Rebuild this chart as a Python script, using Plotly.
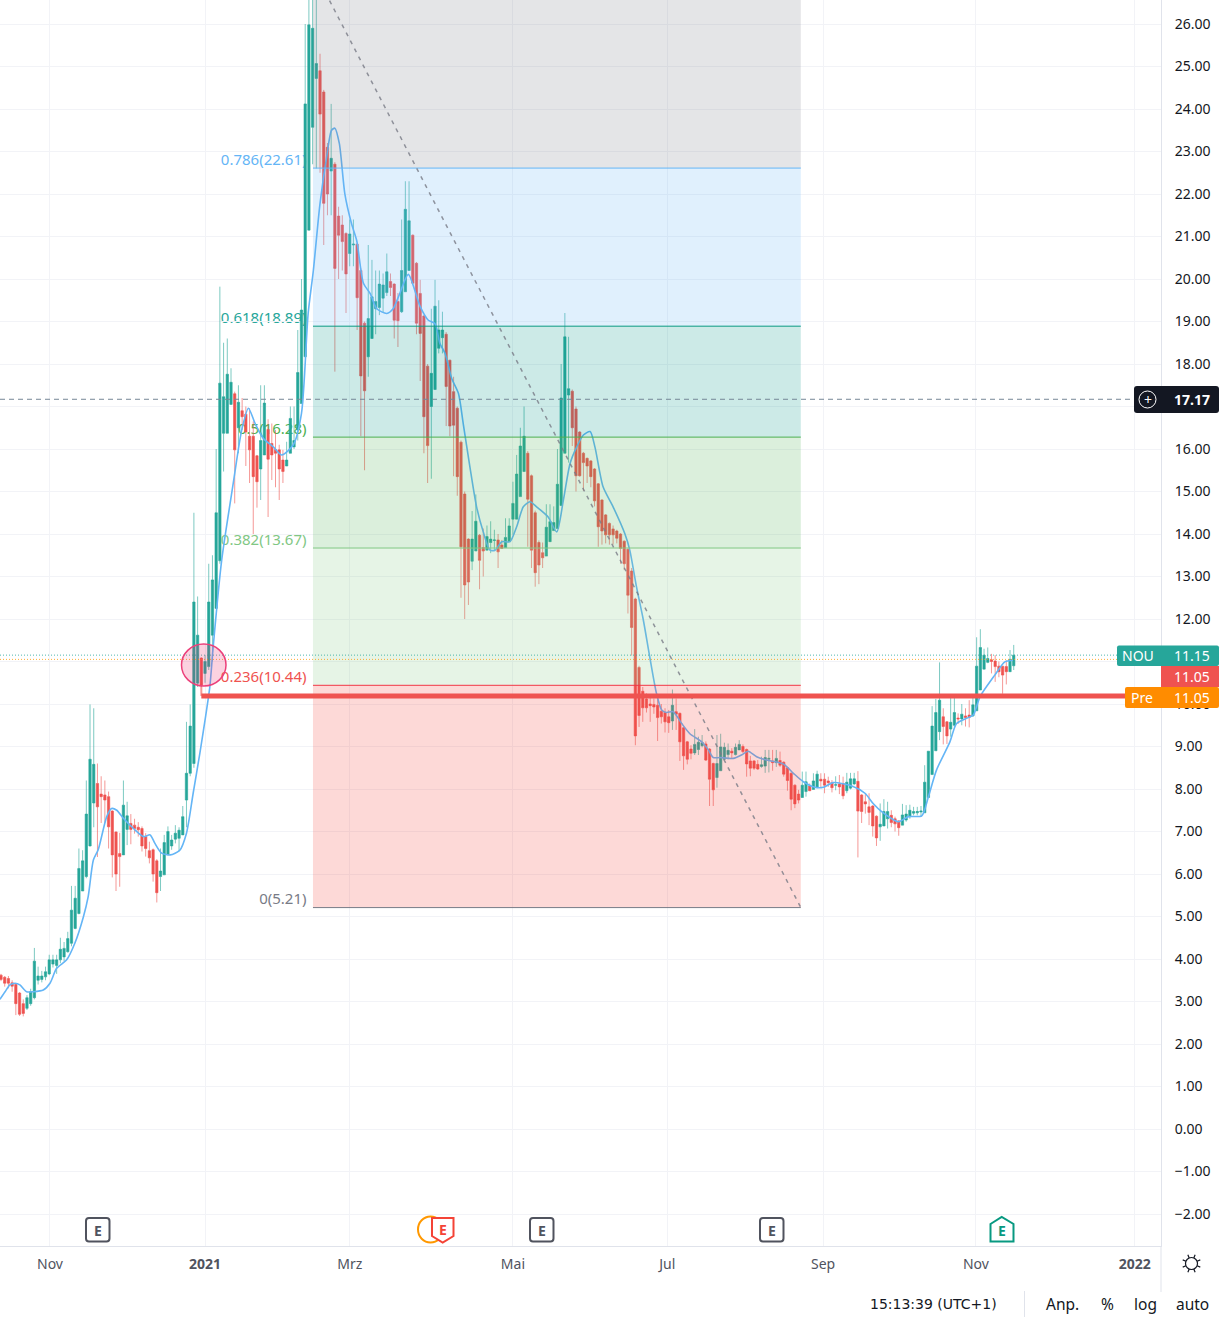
import math
import plotly.graph_objects as go

# ---------- data ----------
opens = [
 3.62,3.57,3.54,3.44,3.40,3.20,2.95,2.84,2.95,3.09,
 3.50,3.52,3.58,3.65,3.88,3.85,3.98,4.05,4.17,4.37,
 4.72,5.07,5.60,5.94,6.66,7.67,8.13,7.88,7.86,7.82,
 7.48,6.99,6.48,6.45,7.05,7.19,7.15,7.10,7.07,6.88,
 6.55,6.57,6.31,5.94,5.98,6.45,6.66,6.82,6.84,6.92,
 7.74,8.37,8.60,10.49,11.08,10.72,10.88,11.62,12.25,13.37,
 16.37,16.37,17.05,17.30,16.50,16.90,16.82,16.30,16.30,15.84,
 15.53,15.86,16.46,16.13,15.99,15.98,15.74,15.60,15.90,16.05,
 16.45,17.07,18.17,21.15,23.57,24.72,24.90,24.40,23.10,22.54,
 22.70,21.48,21.27,21.07,20.60,20.80,20.82,20.20,18.96,18.17,
 18.60,19.30,19.33,19.55,19.68,19.94,19.88,19.47,19.23,19.70,
 20.20,21.03,20.37,19.66,19.13,17.95,17.00,17.40,18.37,18.62,
 18.70,18.09,17.35,16.96,16.16,14.94,13.88,13.36,13.60,13.97,
 13.68,13.62,13.80,13.85,13.86,13.74,13.68,13.82,14.35,14.35,
 14.88,15.47,15.90,15.37,14.50,13.80,13.56,13.48,13.82,14.08,
 14.13,14.67,15.90,17.27,17.36,16.94,16.40,15.90,15.78,15.72,
 15.53,15.18,14.80,14.45,14.25,14.12,14.07,14.00,13.83,13.64,
 13.13,12.47,10.86,10.30,10.12,10.00,9.99,9.97,9.83,9.80,
 9.70,9.60,9.82,9.78,9.44,9.11,8.94,8.85,8.93,9.02,
 9.06,8.94,8.60,8.27,8.43,8.70,8.81,8.89,8.81,8.92,
 9.00,8.93,8.66,8.66,8.58,8.53,8.54,8.70,8.66,8.62,
 8.67,8.63,8.50,8.37,8.09,7.88,7.80,7.94,8.07,7.99,
 8.05,8.23,8.23,8.19,8.15,8.09,8.12,8.13,7.96,8.02,
 8.12,8.18,7.86,7.70,7.58,7.60,7.36,7.11,7.13,7.30,
 7.38,7.30,7.25,7.15,7.27,7.35,7.43,7.44,7.46,7.44,
 7.80,8.34,8.90,9.35,9.70,9.58,9.41,9.50,9.67,9.65,
 9.72,9.74,9.72,9.84,10.33,10.82,10.98,11.04,11.01,10.89,
 10.89,10.88,10.76,10.90]
highs = [
 3.65,3.60,3.60,3.50,3.42,3.22,3.05,3.15,3.30,4.26,
 3.82,3.72,3.82,4.10,4.10,4.10,4.50,4.40,4.64,5.72,
 5.72,6.60,6.56,8.20,9.99,9.90,8.60,8.30,8.20,7.94,
 7.50,7.00,6.97,8.20,7.70,7.41,7.30,7.22,7.12,6.96,
 6.76,6.60,6.35,6.60,6.92,7.12,6.92,7.15,7.10,7.60,
 9.58,9.99,14.50,12.53,11.10,11.15,13.30,13.50,16.00,19.82,
 18.50,18.60,17.90,17.35,17.50,17.20,17.00,16.96,16.65,15.86,
 17.50,17.50,16.70,16.60,16.45,16.10,15.98,16.17,17.00,17.00,
 18.80,20.00,26.00,27.00,27.00,27.00,25.30,24.45,23.20,24.12,
 22.75,21.70,21.50,21.10,21.40,21.40,20.85,20.25,19.00,20.80,
 20.45,20.20,20.20,20.13,20.60,20.13,19.90,19.67,21.40,22.30,
 22.30,21.05,20.40,19.98,19.15,18.00,19.30,19.98,19.50,19.23,
 18.75,18.10,17.70,17.00,16.20,15.00,13.90,14.54,14.93,14.00,
 14.13,14.20,14.30,14.10,14.00,13.86,14.37,14.37,15.23,15.86,
 16.50,17.00,15.95,15.40,14.55,13.85,13.80,14.70,14.70,14.65,
 16.00,18.00,19.20,18.64,17.40,17.00,16.42,15.93,15.80,15.74,
 15.55,15.20,14.82,14.47,14.27,14.20,14.10,14.02,13.85,13.66,
 13.20,12.50,10.90,10.40,10.25,10.20,10.13,10.13,10.00,9.90,
 9.86,10.34,10.13,9.80,9.46,9.13,9.03,9.41,9.23,9.27,
 9.12,8.96,8.62,9.27,9.30,9.09,9.07,8.96,9.07,9.15,
 9.05,8.95,8.78,8.68,8.68,8.76,8.92,8.92,8.92,8.92,
 8.88,8.65,8.52,8.39,8.11,7.98,8.41,8.41,8.13,8.37,
 8.43,8.37,8.37,8.29,8.21,8.30,8.33,8.29,8.38,8.38,
 8.38,8.42,7.88,7.90,7.90,7.62,7.38,7.66,7.76,7.70,
 7.50,7.35,7.27,7.65,7.62,7.63,7.58,7.58,7.60,8.56,
 8.89,9.95,10.12,10.98,9.90,9.60,10.18,10.18,9.78,10.00,
 9.90,10.09,10.18,11.57,11.76,11.30,11.33,11.18,11.15,11.00,
 10.89,11.03,11.27,11.39]
lows = [
 3.48,3.35,3.31,3.23,2.68,2.66,2.65,2.80,2.90,3.05,
 3.40,3.45,3.50,3.62,3.80,3.65,3.90,3.95,4.15,4.30,
 4.70,5.05,5.60,5.90,6.65,7.10,6.40,7.20,7.20,6.60,
 5.92,5.60,5.70,6.45,6.68,6.70,6.95,6.88,6.53,6.41,
 6.25,5.82,5.33,5.60,5.98,6.45,6.57,6.72,6.53,6.92,
 7.10,8.30,8.50,10.40,10.40,10.50,10.80,11.00,12.25,13.30,
 15.47,16.37,17.05,14.72,15.90,16.45,15.60,15.20,14.00,14.62,
 14.80,15.86,14.40,15.27,15.10,14.80,15.20,15.60,15.90,16.00,
 16.20,17.07,18.17,21.15,22.70,22.60,22.50,20.80,21.50,21.50,
 17.82,20.00,20.20,19.20,20.30,20.30,18.80,16.30,15.50,17.70,
 18.60,18.70,19.15,19.20,19.60,19.60,18.60,18.40,19.20,19.70,
 20.20,19.90,18.70,17.60,15.90,15.20,15.30,17.40,18.25,18.25,
 16.54,16.30,15.36,14.90,12.50,12.00,12.33,13.15,13.60,12.70,
 13.00,13.62,13.55,13.60,13.20,13.65,13.68,13.82,13.98,14.35,
 14.88,15.47,13.70,13.20,12.76,12.82,13.20,13.48,13.82,14.08,
 14.13,14.67,15.90,15.68,16.07,15.00,15.35,15.02,15.20,15.10,
 14.65,13.70,13.75,13.78,13.75,13.75,13.78,13.30,13.15,12.13,
 11.14,9.03,9.46,9.58,9.80,9.58,9.77,9.13,9.54,9.33,
 9.32,9.39,9.39,8.66,8.45,8.58,8.70,8.80,8.80,8.98,
 8.66,7.60,7.60,8.03,8.43,8.68,8.70,8.72,8.79,8.92,
 8.85,8.29,8.30,8.45,8.45,8.50,8.38,8.39,8.43,8.52,
 8.52,8.29,7.96,7.50,7.55,7.66,7.80,7.82,7.95,7.99,
 8.02,8.05,7.90,8.05,7.92,7.97,7.88,7.76,7.90,7.99,
 8.09,6.39,7.20,7.42,7.15,6.88,6.66,6.78,7.13,7.07,
 7.10,7.00,6.90,7.15,7.23,7.30,7.38,7.38,7.35,7.44,
 7.80,8.34,8.90,9.15,9.05,9.06,9.23,9.46,9.53,9.50,
 9.47,9.45,9.70,9.84,10.33,10.82,10.96,10.72,10.52,10.63,
 10.24,10.46,10.76,10.80]
closes = [
 3.52,3.43,3.43,3.36,2.95,2.70,2.72,3.09,3.23,3.95,
 3.60,3.60,3.70,3.98,3.98,3.98,4.23,4.25,4.48,5.15,
 5.43,6.13,6.31,7.41,8.70,8.58,7.58,7.82,7.74,7.11,
 6.45,6.00,6.41,7.62,7.37,7.05,7.07,7.04,6.66,6.60,
 6.38,6.00,5.56,6.07,6.74,7.00,6.80,6.96,7.03,7.35,
 8.37,9.48,12.40,11.62,10.45,11.00,12.40,12.92,14.50,17.55,
 17.23,17.76,17.57,15.98,17.10,16.76,16.40,15.98,15.35,15.23,
 16.20,17.08,15.76,15.86,15.90,15.53,15.47,15.74,16.72,16.20,
 17.80,19.27,24.12,25.98,25.90,25.07,23.88,21.78,22.00,22.84,
 20.25,21.03,20.88,20.12,21.06,20.82,19.56,17.72,17.37,19.07,
 19.58,19.47,19.88,19.86,20.17,19.80,19.03,19.02,20.20,21.64,
 21.37,19.90,18.96,18.72,16.76,16.08,17.78,19.36,18.80,18.80,
 17.47,16.54,16.56,15.35,13.70,12.80,12.87,13.88,14.30,13.38,
 13.60,13.94,13.88,13.86,13.58,13.66,13.92,14.19,14.72,15.41,
 16.07,16.30,14.82,13.62,13.09,13.27,13.44,14.16,14.29,14.27,
 15.17,17.20,18.64,17.42,16.50,15.37,15.37,15.68,15.60,15.35,
 14.78,14.17,14.07,13.98,13.98,13.98,13.90,13.66,13.30,12.56,
 11.80,9.25,9.73,9.91,9.91,9.96,9.93,9.68,9.70,9.58,
 9.56,9.97,9.76,9.11,8.78,8.70,8.84,9.05,9.10,9.09,
 8.68,8.23,7.98,8.60,8.99,8.98,8.91,8.85,8.98,9.05,
 8.88,8.59,8.49,8.49,8.47,8.57,8.74,8.72,8.62,8.72,
 8.56,8.35,8.20,7.76,7.65,7.74,8.09,8.17,7.96,8.19,
 8.35,8.19,8.09,8.15,8.03,8.10,8.05,7.84,8.16,8.24,
 8.24,7.48,7.47,7.65,7.45,7.13,6.85,7.17,7.47,7.47,
 7.21,7.18,7.09,7.39,7.41,7.50,7.47,7.47,7.48,8.16,
 8.89,9.48,9.80,10.09,9.47,9.25,9.57,9.80,9.65,9.76,
 9.68,9.69,9.98,10.89,11.33,11.15,11.07,11.00,10.88,10.76,
 10.68,10.76,11.05,11.15]

ma_bar = [
 -0.3,1.1,2.4,3.8,5.1,6.9,8.7,11.4,13.2,15,17.7,19.9,22.2,23.5,24.9,26.2,28.5,29.8,31.2,33,
 35.7,38.4,40.2,41.5,43.3,45.6,48.2,50,51.8,53.6,55,56.3,57.2,59.5,62.6,64.9,66.7,68.5,70.7,73.4,
 75.7,78.8,81,82.8,84.2,86,87.8,89.1,90,91.2,92.7,94.5,95.9,97.7,99.5,101.3,104,105.7,107.5,109.8,
 113,115.2,117,118.3,119.7,121.5,123.3,124.6,126.4,128.2,130,131.8,133.2,135,137.2,139,140.8,142.6,144.4,147.5,
 149.8,151.6,153.4,155.2,157,158.8,160.1,162.3,165,168.2,169.5,171.3,173.1,174.9,176.7,178.1,179.4,181.2,183.5,185.7,
 188.9,190.7,192,193.8,197.4,199.6,201.4,203.7,206.4,210.9,213.6,216.3,219.4,221.7,224.3,229.7,232.9,235.1,237.4,241.9,
 244.6,248.2,250,252.2,255.8,257.6,260.7,262.1,263.9,267.9,270.6,272.8]
ma_val = [
 3.05,3.23,3.39,3.43,3.39,3.23,3.23,3.27,3.43,3.78,3.98,4.37,4.99,5.47,6.33,6.57,7.35,7.54,7.50,7.31,
 7.07,6.88,6.92,6.72,6.49,6.45,6.56,6.96,7.90,8.84,9.62,10.41,11.35,13.39,15.19,16.45,16.96,16.60,16.25,16.05,
 15.86,16.10,16.84,19.19,20.20,21.78,22.88,23.50,23.55,23.19,22.00,21.30,20.90,19.90,19.66,19.30,19.19,19.30,19.66,20.11,
 19.35,19.03,18.95,18.49,18.25,17.66,17.31,16.60,15.58,14.64,14.05,13.62,13.62,13.82,13.82,14.17,14.64,14.76,14.64,14.40,
 14.05,14.80,15.66,16.05,16.33,16.41,16.05,15.11,14.64,14.00,13.62,12.76,12.00,11.10,10.25,9.86,9.80,9.82,9.54,9.30,
 9.11,8.92,8.74,8.74,8.72,8.80,8.89,8.76,8.68,8.59,8.37,8.17,8.04,8.04,8.15,8.06,7.90,7.66,7.47,7.23,
 7.35,7.37,7.82,8.45,9.11,9.54,9.68,9.74,10.17,10.68,10.99,11.03]

month_bar = [13.2,55,94,138,179.6,221.6,262.8,305.6]
month_text = ["Nov","<b>2021</b>","Mrz","Mai","Jul","Sep","Nov","<b>2022</b>"]

price_ticks = list(range(-2, 27))
hidden_ticks = {11, 17}     # covered by the price labels in the reference

fib_ratio = ["0.786","0.618","0.5","0.382","0.236","0"]
fib_price = [22.61,18.89,16.28,13.67,10.44,5.21]
fib_top = 27.3
fib_start_bar, fib_end_bar = 84.1, 215.6
fib_line = ["#64B5F6","#089981","#4CAF50","#81C784","#F23645","#787B86"]
fib_text = ["#64B5F6","#26A69A","#4CAF50","#81C784","#EF5350","#787B86"]
fib_fill = ["rgba(120,123,134,0.2)","rgba(100,181,246,0.2)","rgba(0,150,136,0.2)",
            "rgba(76,175,80,0.2)","rgba(129,199,132,0.2)","rgba(244,67,54,0.2)"]

last_price, pre_price, cross_price, level_price = 11.15, 11.05, 17.17, 10.19
pivot_bar = 54

FONT = "Noto Sans"
W, H, PW, PH = 1223, 1328, 1161, 1246
UP, DN = "#26A69A", "#EF5350"
px = lambda v: v / PW
py = lambda v: 1 - v / PH

fig = go.Figure()
fig.add_trace(go.Candlestick(
    x=list(range(len(opens))), open=opens, high=highs, low=lows, close=closes,
    increasing=dict(line=dict(color="rgba(38,166,154,0.6)", width=1), fillcolor=UP),
    decreasing=dict(line=dict(color="rgba(239,83,80,0.6)", width=1), fillcolor=DN),
    whiskerwidth=0, hoverinfo="skip", showlegend=False))
fig.add_trace(go.Scatter(x=ma_bar, y=ma_val, mode="lines", hoverinfo="skip", showlegend=False,
                         line=dict(color="#64B5F6", width=1.6, shape="spline", smoothing=0.7)))

shapes, notes = [], []

def rrect(x0, y0, x1, y1, r, fill, line=None, lw=0):
    P = lambda a, b: f"{px(a):.6f},{py(b):.6f}"
    d = (f"M{P(x0+r,y0)} L{P(x1-r,y0)} Q{P(x1,y0)} {P(x1,y0+r)} L{P(x1,y1-r)} Q{P(x1,y1)} {P(x1-r,y1)} "
         f"L{P(x0+r,y1)} Q{P(x0,y1)} {P(x0,y1-r)} L{P(x0,y0+r)} Q{P(x0,y0)} {P(x0+r,y0)} Z")
    shapes.append(dict(type="path", path=d, xref="paper", yref="paper", fillcolor=fill,
                       line=dict(color=line or fill, width=lw)))

def poly(points, fill, line, lw):
    d = "M" + " L".join(f"{px(a):.6f},{py(b):.6f}" for a, b in points) + " Z"
    shapes.append(dict(type="path", path=d, xref="paper", yref="paper", fillcolor=fill,
                       line=dict(color=line, width=lw)))

def text(x, y, s, size=14, color="#131722", anchor="center", family=FONT):
    notes.append(dict(x=px(x), y=py(y), xref="paper", yref="paper", text=s, showarrow=False,
                      xanchor=anchor, yanchor="middle", font=dict(family=family, size=size, color=color)))

# Fibonacci retracement
levels_top = [fib_top] + fib_price[:-1]
for top, bot, fill in zip(levels_top, fib_price, fib_fill):
    shapes.append(dict(type="rect", xref="x", yref="y", x0=fib_start_bar, x1=fib_end_bar, y0=bot, y1=top,
                       fillcolor=fill, line=dict(width=0)))
for price, col in zip(fib_price, fib_line):
    shapes.append(dict(type="line", xref="x", yref="y", x0=fib_start_bar, x1=fib_end_bar, y0=price, y1=price,
                       line=dict(color=col, width=1)))
for ratio, price, col in zip(fib_ratio, fib_price, fib_text):
    ly = 1129 - 42.5 * price - 8.5
    shapes.append(dict(type="rect", layer="below", xref="paper", yref="paper",
                       x0=px(200), x1=px(309.5), y0=py(ly + 10), y1=py(ly - 10),
                       fillcolor="rgba(0,0,0,0)", line=dict(width=0),
                       label=dict(text=f"{ratio}({price:.2f})", textposition="middle right", padding=0,
                                  font=dict(family=FONT, size=15, color=col))))
shapes.append(dict(type="line", xref="x", yref="y", x0=fib_start_bar, x1=fib_end_bar, y0=fib_top, y1=fib_price[-1],
                   line=dict(color="rgba(120,123,134,0.8)", width=1.5, dash="4px,5px")))

# horizontals
shapes.append(dict(type="line", xref="paper", yref="y", x0=0, x1=px(1135), y0=cross_price, y1=cross_price,
                   line=dict(color="#758696", width=1, dash="5px,4px")))
shapes.append(dict(type="line", xref="paper", yref="y", x0=0, x1=px(1117), y0=last_price, y1=last_price,
                   line=dict(color="rgba(38,166,154,0.8)", width=1, dash="1px,2px")))
shapes.append(dict(type="line", xref="paper", yref="y", x0=0, x1=px(1125), y0=pre_price, y1=pre_price,
                   line=dict(color="rgba(255,152,0,0.8)", width=1, dash="1px,2px")))
shapes.append(dict(type="line", xref="x", yref="y", x0=pivot_bar, x1=pivot_bar, y0=level_price, y1=10.45,
                   line=dict(color="rgba(239,83,80,0.6)", width=2)))
shapes.append(dict(type="line", xref="x", yref="y", x0=pivot_bar, x1=320, y0=level_price, y1=level_price,
                   line=dict(color=DN, width=5)))

# pink ellipse around the pivot
shapes.append(dict(type="circle", xref="paper", yref="paper", x0=px(181.5), x1=px(226), y0=py(644), y1=py(686),
                   fillcolor="rgba(233,30,99,0.2)", line=dict(color="#EC407A", width=1.5)))

# price labels
rrect(1117, 645.5, 1219, 666, 2, UP)
text(1138, 655, "NOU", color="white")
text(1192, 655, f"{last_price:.2f}", color="white")
rrect(1161, 666, 1219, 687, 0, DN)
text(1192, 676, "11.05", color="white")
rrect(1125, 687, 1219, 708, 2, "#FF8C00")
text(1142, 697, "Pre", color="white")
text(1192, 697, f"{pre_price:.2f}", color="white")
rrect(1134, 386, 1219, 413, 3, "#131722")
shapes.append(dict(type="circle", xref="paper", yref="paper", x0=px(1139), x1=px(1156), y0=py(391), y1=py(408),
                   fillcolor="rgba(0,0,0,0)", line=dict(color="white", width=1)))
text(1147.5, 399, "+", color="white", size=14)
text(1192, 399, f"<b>{cross_price:.2f}</b>", color="white")

# earnings badges
for x0 in (86, 530, 760):
    rrect(x0, 1218, x0 + 23.5, 1241.5, 3, "white", "#50535E", 2)
    text(x0 + 11.75, 1230, "<b>E</b>", color="#50535E", size=14)
shapes.append(dict(type="circle", xref="paper", yref="paper", x0=px(418), x1=px(443), y0=py(1216.5), y1=py(1242.5),
                   fillcolor="white", line=dict(color="#FF9800", width=2)))
poly([(432, 1218), (453.5, 1218), (453.5, 1236), (442.7, 1242.5), (432, 1236)], "white", "#F44336", 2)
text(442.7, 1229.5, "<b>E</b>", color="#F44336", size=14)
poly([(990.5, 1224), (1001.7, 1217), (1013.5, 1224), (1013.5, 1241.5), (990.5, 1241.5)], "white", "#089981", 2)
text(1002, 1230, "<b>E</b>", color="#089981", size=14)

# settings icon (sun)
sun_x, sun_y = 1191.5, 1263.5
shapes.append(dict(type="circle", xref="paper", yref="paper", x0=px(sun_x-6), x1=px(sun_x+6), y0=py(sun_y-6), y1=py(sun_y+6),
                   fillcolor="white", line=dict(color="#131722", width=1.2)))
for k in range(8):
    a = k * math.pi / 4 + math.pi / 8
    shapes.append(dict(type="line", xref="paper", yref="paper",
                       x0=px(sun_x + 6 * math.cos(a)), x1=px(sun_x + 9.5 * math.cos(a)),
                       y0=py(sun_y + 6 * math.sin(a)), y1=py(sun_y + 9.5 * math.sin(a)),
                       line=dict(color="#131722", width=1.2)))

# footer
shapes.append(dict(type="line", xref="paper", yref="paper", x0=px(1161), x1=px(1161), y0=py(1246), y1=py(1292),
                   line=dict(color="#E0E3EB", width=1)))
shapes.append(dict(type="line", xref="paper", yref="paper", x0=px(1024.5), x1=px(1024.5), y0=py(1291), y1=py(1317),
                   line=dict(color="#E0E3EB", width=1)))
text(868, 1304, "15:13:39 (UTC+1)", size=14, anchor="left", family="DejaVu Sans")
text(1062.5, 1304, "Anp.", size=15.5)
text(1107, 1304, "%", size=15.5)
text(1145.5, 1304, "log", size=15.5)
text(1192, 1304, "auto", size=15.5)

fig.update_layout(
    width=W, height=H, margin=dict(l=0, r=W - PW, t=0, b=H - PH, pad=0, autoexpand=False),
    template="none", paper_bgcolor="white", plot_bgcolor="white", showlegend=False,
    font=dict(family=FONT, size=14, color="#131722"),
    boxgap=0.1, shapes=shapes, annotations=notes,
    xaxis=dict(range=[-0.27, 312.7], rangeslider=dict(visible=False), tickmode="array",
               tickvals=month_bar, ticktext=month_text, showgrid=True, gridcolor="#F2F3F7", gridwidth=1,
               showline=True, linecolor="#E0E3EB", linewidth=1, ticks="", zeroline=False,
               tickfont=dict(family=FONT, size=14, color="#50535E"), ticklabelstandoff=5),
    yaxis=dict(range=[-2.753, 26.565], side="right", tickmode="array", tickvals=price_ticks,
               ticktext=["" if v in hidden_ticks else f"{v:.2f}".replace("-", "\u2212") for v in price_ticks],
               showgrid=True, gridcolor="#F2F3F7", gridwidth=1, zeroline=False,
               showline=True, linecolor="#E0E3EB", linewidth=1, ticks="",
               tickfont=dict(family=FONT, size=14, color="#131722"), ticklabelstandoff=10),
)

fig.write_html("out.html", config=dict(displayModeBar=False),
               post_script="document.body.style.margin='0';document.body.style.overflow='hidden';")
